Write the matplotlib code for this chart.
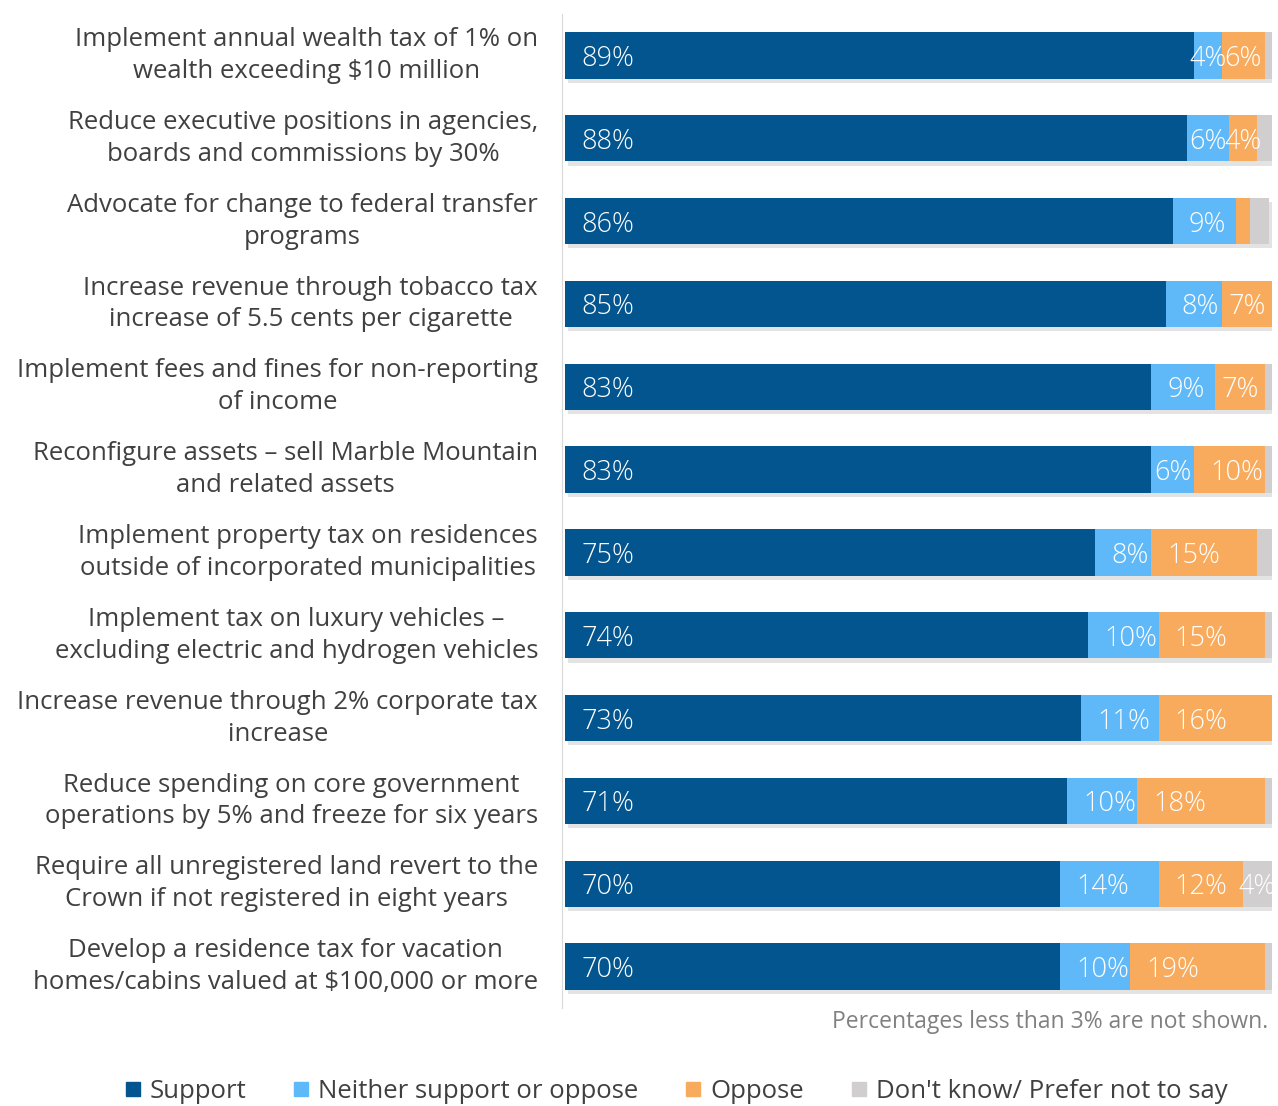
import matplotlib
matplotlib.use("Agg")
import matplotlib.pyplot as plt
import matplotlib.patheffects as pe
import matplotlib.transforms as mtransforms
from matplotlib.lines import Line2D

plt.rcParams["font.family"] = ["Open Sans", "DejaVu Sans"]

questions = [
    "Implement annual wealth tax of 1% on\nwealth exceeding $10 million",
    "Reduce executive positions in agencies,\nboards and commissions by 30%",
    "Advocate for change to federal transfer\nprograms",
    "Increase revenue through tobacco tax\nincrease of 5.5 cents per cigarette",
    "Implement fees and fines for non-reporting\nof income",
    "Reconfigure assets \u2013 sell Marble Mountain\nand related assets",
    "Implement property tax on residences\noutside of incorporated municipalities",
    "Implement tax on luxury vehicles \u2013\nexcluding electric and hydrogen vehicles",
    "Increase revenue through 2% corporate tax\nincrease",
    "Reduce spending on core government\noperations by 5% and freeze for six years",
    "Require all unregistered land revert to the\nCrown if not registered in eight years",
    "Develop a residence tax for vacation\nhomes/cabins valued at $100,000 or more",
]
support = [89, 88, 86, 85, 83, 83, 75, 74, 73, 71, 70, 70]
neither = [4, 6, 9, 8, 9, 6, 8, 10, 11, 10, 14, 10]
oppose = [6, 4, 2, 7, 7, 10, 15, 15, 16, 18, 12, 19]
dont_know = [1, 2, 2.6, 0, 1, 1, 2, 1, 0, 1, 4, 1]

series = [
    ("Support", support, "#02558f"),
    ("Neither support or oppose", neither, "#5fb9f9"),
    ("Oppose", oppose, "#f8ab5c"),
    ("Don't know/ Prefer not to say", dont_know, "#d0cece"),
]

fig = plt.figure(figsize=(12.78, 11.06), dpi=100)
ax = fig.add_axes([0.442, 0.0886, 0.553, 0.8987])

shadow = [pe.SimplePatchShadow(offset=(2, -3), shadow_rgbFace="#b0b0b0", alpha=0.35), pe.Normal()]

y = list(range(len(questions)))
left = [0] * len(questions)
for name, vals, col in series:
    bars = ax.barh(y, vals, left=left, height=0.56, color=col, label=name)
    for b in bars:
        b.set_path_effects(shadow)
    for i, v in enumerate(vals):
        if v >= 3:
            if v >= 8 or name == "Support":
                ax.text(left[i] + 2.3, i, f"{v:.0f}%", ha="left", va="center_baseline",
                        color="white", fontsize=19.5, fontweight="light")
            else:
                ax.text(left[i] + v / 2, i, f"{v:.0f}%", ha="center", va="center_baseline",
                        color="white", fontsize=19.5, fontweight="light")
    left = [l + v for l, v in zip(left, vals)]

ax.set_xlim(0, 100)
ax.set_ylim(len(questions) - 0.5, -0.5)
ax.set_xticks([])
ax.set_yticks([])

# category names, right edge aligned, lines centred on each other
trans = mtransforms.blended_transform_factory(ax.transAxes, ax.transData)
for i, q in enumerate(questions):
    ax.text(-0.038, i, q, transform=trans, ha="right", va="center",
            multialignment="center", fontsize=18.5, color="#404040",
            linespacing=1.36)

for s in ["top", "right", "bottom"]:
    ax.spines[s].set_visible(False)
ax.spines["left"].set_color("#d9d9d9")
ax.spines["left"].set_position(("outward", 2))

fig.text(0.992, 0.076, "Percentages less than 3% are not shown.", ha="right",
         va="center", fontsize=16.5, color="#808080")

handles = [Line2D([], [], marker="s", linestyle="", markersize=10, color=c)
           for _, _, c in series]
fig.legend(handles, [n for n, _, _ in series], loc="center", ncol=4,
           bbox_to_anchor=(0.528, 0.013), frameon=False, fontsize=18.5,
           labelcolor="#404040", handletextpad=0.25, columnspacing=1.75,
           handlelength=0.8)

fig.savefig("out.png", dpi=100)
